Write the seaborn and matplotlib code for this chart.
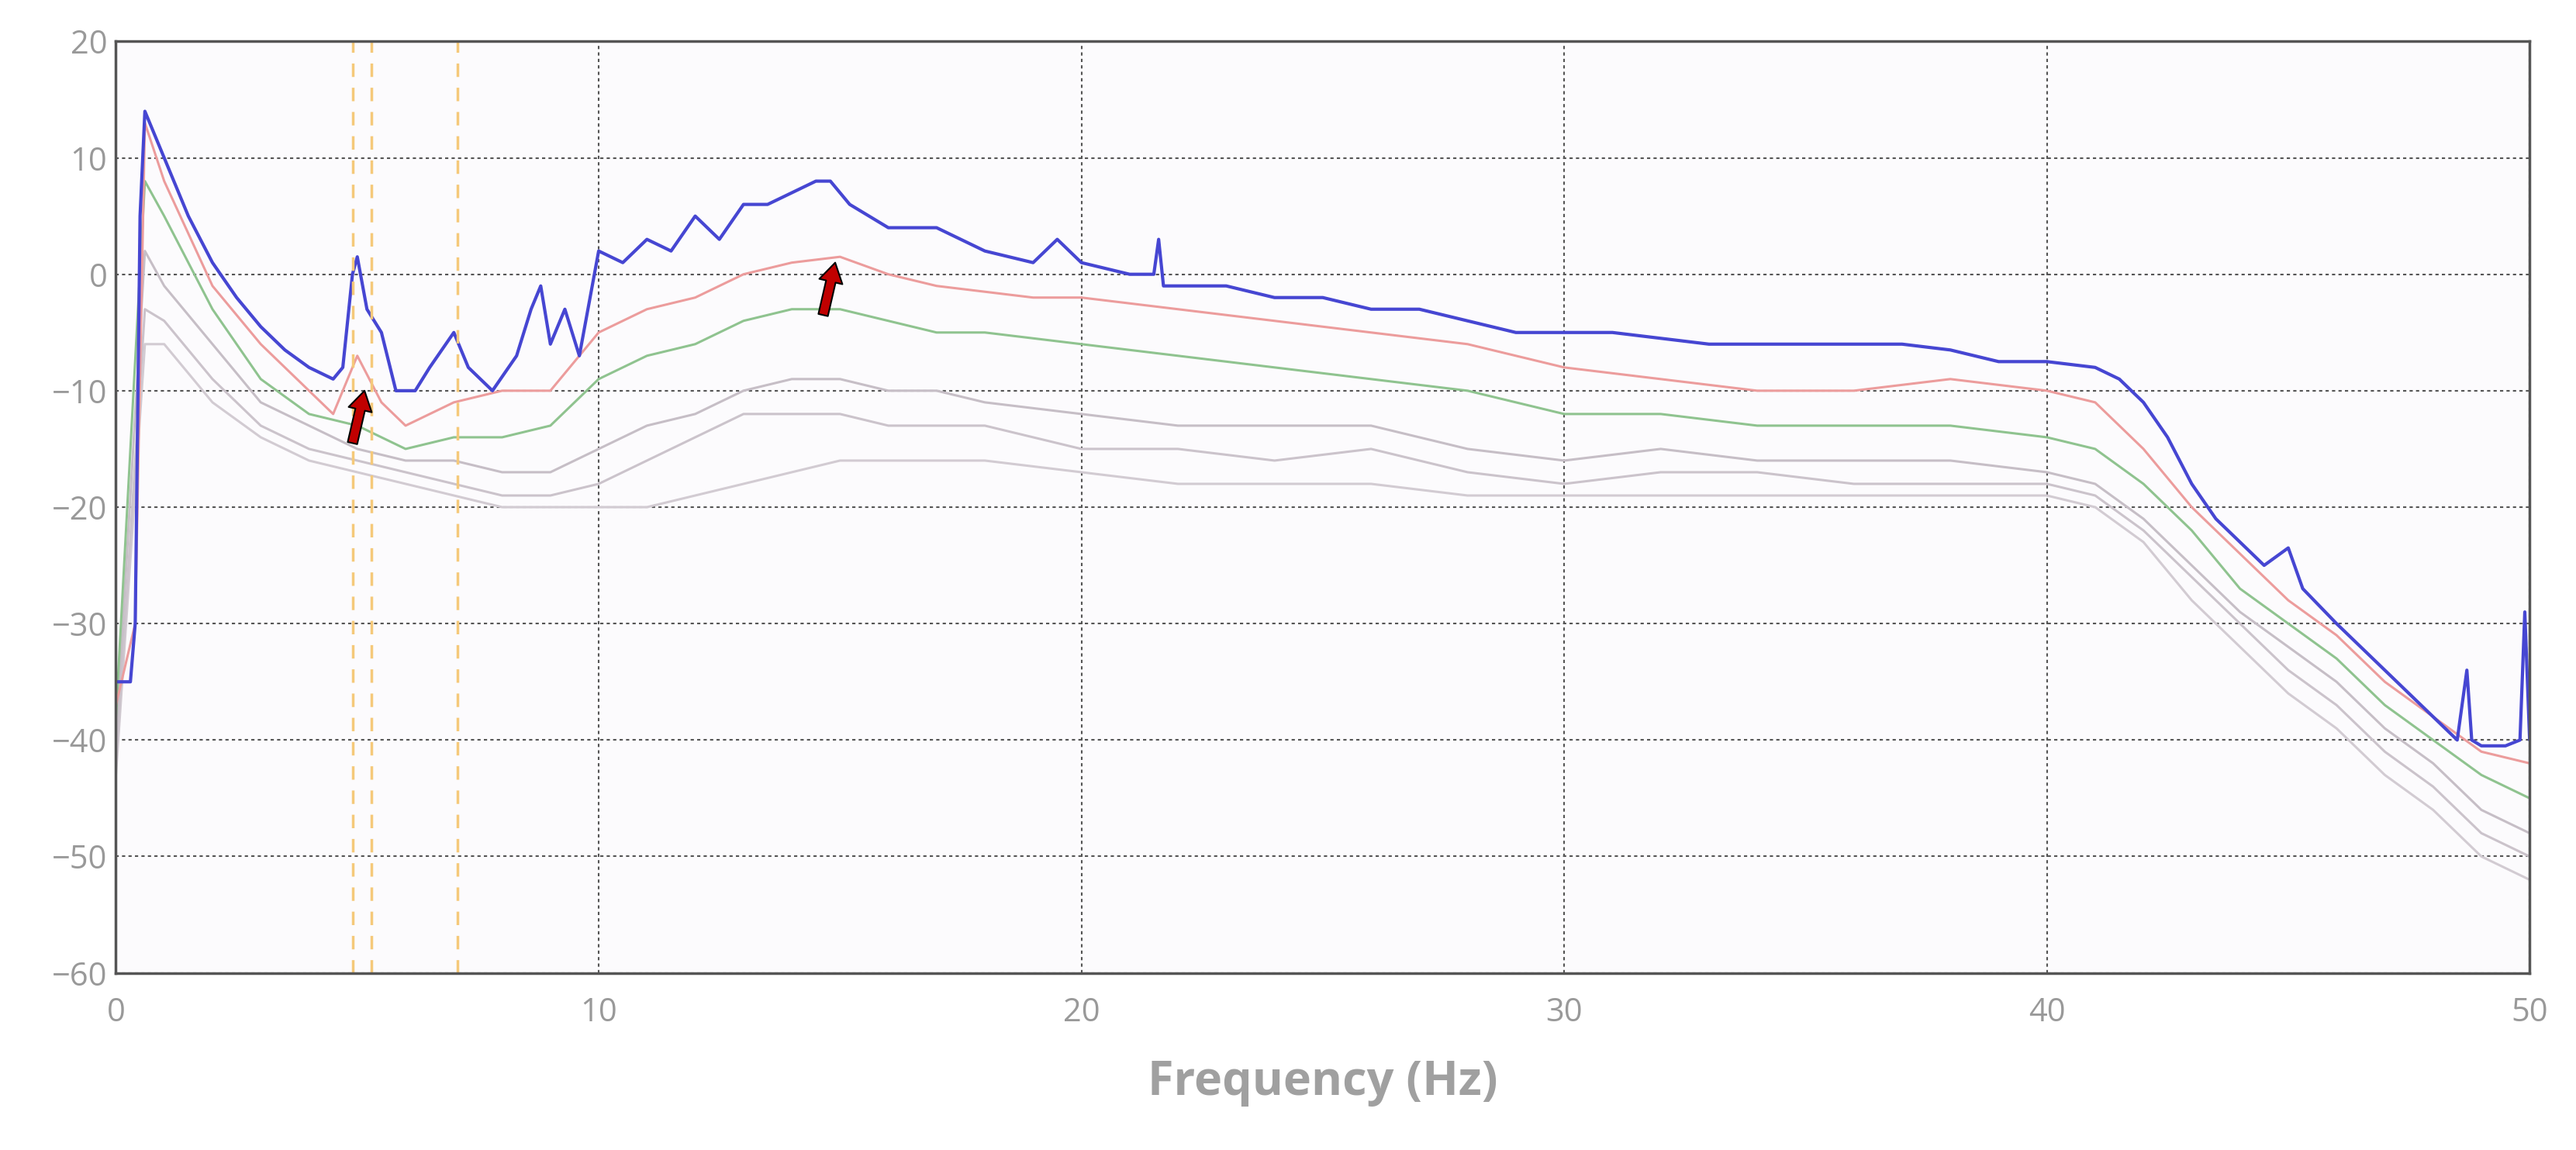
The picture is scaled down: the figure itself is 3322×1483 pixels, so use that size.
import numpy as np
import pandas as pd
import matplotlib
matplotlib.use("Agg")
import matplotlib.pyplot as plt
import seaborn as sns

sns.set_theme(style="white")
plt.rcParams['font.family'] = ['Open Sans', 'DejaVu Sans']

blue_f = [0, 0.3, 0.4, 0.5, 0.6, 0.7, 1, 1.5, 2, 2.5, 3, 3.5, 4, 4.5, 4.7, 4.9, 5.0, 5.2, 5.5, 5.8, 6.2, 6.5, 7, 7.3, 7.8,
          8.3, 8.6, 8.8, 9, 9.3, 9.6, 10, 10.5, 11, 11.5, 12, 12.5, 13, 13.5, 14, 14.5, 14.8, 15.2, 16, 17, 18, 19, 19.5,
          20, 21, 21.5, 21.6, 21.7, 22, 23, 24, 25, 26, 27, 28, 29, 30, 31, 32, 33, 34, 35, 36, 37, 38, 39, 40, 41,
          41.5, 42, 42.5, 43, 43.5, 44, 44.5, 45, 45.3, 46, 46.5, 47, 47.5, 48, 48.5, 48.7, 48.8, 49, 49.5, 49.8, 49.9, 50]
blue_db = [-35, -35, -30, 5, 14, 13, 10, 5, 1, -2, -4.5, -6.5, -8, -9, -8, 0, 1.5, -3, -5, -10, -10, -8, -5, -8, -10,
           -7, -3, -1, -6, -3, -7, 2, 1, 3, 2, 5, 3, 6, 6, 7, 8, 8, 6, 4, 4, 2, 1, 3,
           1, 0, 0, 3, -1, -1, -1, -2, -2, -3, -3, -4, -5, -5, -5, -5.5, -6, -6, -6, -6, -6, -6.5, -7.5, -7.5, -8,
           -9, -11, -14, -18, -21, -23, -25, -23.5, -27, -30, -32, -34, -36, -38, -40, -34, -40, -40.5, -40.5, -40, -29, -40]

red_f = [0, 0.4, 0.6, 1, 2, 3, 4, 4.5, 5, 5.5, 6, 7, 8, 9, 10, 11, 12, 13, 14, 15, 16, 17, 18, 19, 20, 22, 24, 26,
         28, 30, 32, 34, 36, 38, 40, 41, 42, 43, 44, 45, 46, 47, 48, 49, 50]
red_db = [-37, -30, 13, 8, -1, -6, -10, -12, -7, -11, -13, -11, -10, -10, -5, -3, -2, 0, 1, 1.5, 0, -1, -1.5, -2, -2,
          -3, -4, -5, -6, -8, -9, -10, -10, -9, -10, -11, -15, -20, -24, -28, -31, -35, -38, -41, -42]

f = [0, 0.6, 1, 2, 3, 4, 5, 6, 7, 8, 9, 10, 11, 12, 13, 14, 15, 16, 17, 18, 20, 22, 24, 26, 28, 30, 32, 34, 36, 38,
     40, 41, 42, 43, 44, 45, 46, 47, 48, 49, 50]
green_db = [-38, 8, 5, -3, -9, -12, -13, -15, -14, -14, -13, -9, -7, -6, -4, -3, -3, -4, -5, -5, -6, -7, -8, -9, -10,
            -12, -12, -13, -13, -13, -14, -15, -18, -22, -27, -30, -33, -37, -40, -43, -45]
grey1_db = [-40, 2, -1, -6, -11, -13, -15, -16, -16, -17, -17, -15, -13, -12, -10, -9, -9, -10, -10, -11, -12, -13, -13,
            -13, -15, -16, -15, -16, -16, -16, -17, -18, -21, -25, -29, -32, -35, -39, -42, -46, -48]
grey2_db = [-42, -3, -4, -9, -13, -15, -16, -17, -18, -19, -19, -18, -16, -14, -12, -12, -12, -13, -13, -13, -15, -15,
            -16, -15, -17, -18, -17, -17, -18, -18, -18, -19, -22, -26, -30, -34, -37, -41, -44, -48, -50]
grey3_db = [-43, -6, -6, -11, -14, -16, -17, -18, -19, -20, -20, -20, -20, -19, -18, -17, -16, -16, -16, -16, -17, -18,
            -18, -18, -19, -19, -19, -19, -19, -19, -19, -20, -23, -28, -32, -36, -39, -43, -46, -50, -52]

marker_lines = [4.9, 5.3, 7.07]

fig = plt.figure(figsize=(33.22, 14.83), dpi=100)
ax = fig.add_axes([0.045, 0.154, 0.937, 0.81])
ax.set_facecolor("#fcfbfd")

series = [
    (f, grey3_db, "#d2cbd2"),
    (f, grey2_db, "#cbc3cb"),
    (f, grey1_db, "#c6bec6"),
    (f, green_db, "#8fc38f"),
    (red_f, red_db, "#ec9c9c"),
    (blue_f, blue_db, "#4646d2"),
]
for xs, ys, c in series:
    sns.lineplot(x=xs, y=ys, ax=ax, color=c, linewidth=3 if c == "#4646d2" else 2.2)

for xv in marker_lines:
    ax.axvline(xv, color="#f5c97a", linestyle=(0, (5, 4)), linewidth=2.5)

for (x0, y0) in [(4.9, -14.5), (14.65, -3.5)]:
    ax.annotate("", xy=(x0 + 0.25, y0 + 4.5), xytext=(x0, y0),
                arrowprops=dict(facecolor="#c00000", edgecolor="black", width=9, headwidth=22, headlength=18, lw=1.5))

ax.set_xlim(0, 50)
ax.set_ylim(-60, 20)
ax.set_xticks(range(0, 51, 10))
ax.set_yticks(range(-60, 21, 10))
ax.grid(True, color="#555555", linestyle=(0, (2, 2)), linewidth=1.5)
for s in ax.spines.values():
    s.set_color("#555555")
    s.set_linewidth(2.5)
ax.tick_params(axis="both", labelsize=30, colors="#999999", length=0)
ax.tick_params(axis="y", pad=8)
ax.tick_params(axis="x", pad=22)
ax.set_xlabel("Frequency (Hz)", fontsize=44, color="#a0a0a0", fontweight="bold", labelpad=28)
ax.set_ylabel("")

fig.savefig("out.png", dpi=100)
